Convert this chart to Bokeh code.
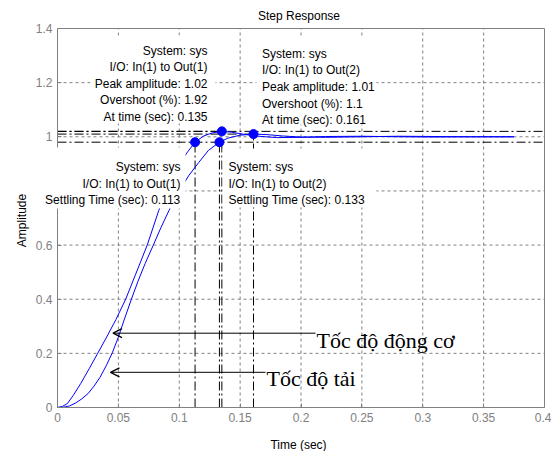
from bokeh.plotting import figure
from bokeh.models import Label, BoxAnnotation, Arrow, OpenHead, Range1d, FixedTicker
from bokeh.embed import file_html
from bokeh.resources import INLINE

# ---------------- data ----------------
t_motor = [0, 0.004, 0.008, 0.013, 0.019, 0.026, 0.033, 0.040, 0.048, 0.056, 0.064,
           0.0737, 0.0832, 0.090, 0.100, 0.107, 0.113, 0.120, 0.127, 0.135, 0.143,
           0.152, 0.165, 0.180, 0.200, 0.220, 0.250, 0.280, 0.310, 0.340, 0.375]
y_motor = [0, 0.004, 0.014, 0.045, 0.088, 0.143, 0.200, 0.257, 0.325, 0.400, 0.490,
           0.600, 0.728, 0.810, 0.900, 0.945, 0.980, 1.003, 1.014, 1.020, 1.017,
           1.010, 1.002, 0.997, 0.998, 1.001, 1.002, 1.000, 0.999, 1.000, 1.000]

t_load = [0, 0.005, 0.010, 0.015, 0.020, 0.025, 0.030, 0.035, 0.040, 0.045, 0.050,
          0.055, 0.0607, 0.066, 0.072, 0.0787, 0.085, 0.0916, 0.100, 0.108, 0.116,
          0.124, 0.133, 0.140, 0.150, 0.161, 0.172, 0.185, 0.200, 0.220, 0.250,
          0.280, 0.310, 0.340, 0.375]
y_load = [0, 0.001, 0.006, 0.017, 0.032, 0.051, 0.079, 0.112, 0.154, 0.202, 0.260,
          0.327, 0.400, 0.465, 0.532, 0.600, 0.665, 0.728, 0.800, 0.858, 0.905,
          0.950, 0.980, 0.995, 1.006, 1.010, 1.008, 1.003, 0.999, 0.998, 1.000,
          1.002, 1.001, 1.000, 1.000]

peak_amp = [1.02, 1.01]
overshoot = [1.92, 1.1]
peak_time = [0.135, 0.161]
settle_time = [0.113, 0.133]
settle_amp = [0.98, 0.98]
band = [1.02, 0.98]
outputs = ["Out(1)", "Out(2)"]

arrow_tip_t = [0.0456, 0.0435]
arrow_tip_y = [0.2745, 0.130]
arrow_texts = ["Tốc độ động cơ", "Tốc độ tải"]

x_ticks = [0, 0.05, 0.1, 0.15, 0.2, 0.25, 0.3, 0.35, 0.4]
x_tick_labels = ["0", "0.05", "0.1", "0.15", "0.2", "0.25", "0.3", "0.35", "0.4"]
y_ticks = [0, 0.2, 0.4, 0.6, 0.8, 1.0, 1.2, 1.4]
y_tick_labels = ["0", "0.2", "0.4", "0.6", "0.8", "1", "1.2", "1.4"]

X_MIN, X_MAX = 0, 0.4
Y_MIN, Y_MAX = 0, 1.4

# ---------------- layout helpers (canvas pixels -> data) ----------------
W, H = 551, 451
FX0, FX1, FY0, FY1 = 57, 544, 28, 407


def sx(px):
    return X_MIN + (px - FX0) / (FX1 - FX0) * (X_MAX - X_MIN)


def sy(py):
    return Y_MIN + (FY1 - py) / (FY1 - FY0) * (Y_MAX - Y_MIN)


GRAY = "#808080"
FONT = "Liberation Sans"

p = figure(width=W, height=H, x_range=Range1d(sx(0), sx(W)), y_range=Range1d(sy(H), sy(0)),
           output_backend="svg", toolbar_location=None, min_border=0)
p.background_fill_color = "white"
p.border_fill_color = "white"
p.outline_line_color = None

for ax, ticks, labels, bnds in ((p.xaxis[0], x_ticks, x_tick_labels, (X_MIN, X_MAX)),
                                (p.yaxis[0], y_ticks, y_tick_labels, (Y_MIN, Y_MAX))):
    ax.fixed_location = 0
    ax.bounds = bnds
    ax.ticker = FixedTicker(ticks=ticks)
    ax.major_label_overrides = {float(t): l for t, l in zip(ticks, labels)}
    ax.axis_line_color = GRAY
    ax.major_tick_line_color = GRAY
    ax.major_tick_in = 4
    ax.major_tick_out = 0
    ax.minor_tick_line_color = None
    ax.major_label_text_color = GRAY
    ax.major_label_text_font = FONT
    ax.major_label_text_font_size = "12px"
    ax.major_label_standoff = 5

p.xgrid.visible = False
p.ygrid.visible = False

# grid (dotted, inside the axes box only) from the tick lists
gx = [t for t in x_ticks if X_MIN < t < X_MAX]
gy = [t for t in y_ticks if Y_MIN < t < Y_MAX]
p.segment(x0=gx, x1=gx, y0=[Y_MIN] * len(gx), y1=[Y_MAX] * len(gx),
          line_color=GRAY, line_dash="3 3", line_width=1)
p.segment(x0=[X_MIN] * len(gy), x1=[X_MAX] * len(gy), y0=gy, y1=gy,
          line_color=GRAY, line_dash="3 3", line_width=1)
# top and right border of the axes box
p.segment(x0=[X_MIN, X_MAX], x1=[X_MAX, X_MAX], y0=[Y_MAX, Y_MIN], y1=[Y_MAX, Y_MAX],
          line_color=GRAY, line_width=1)

# characteristic lines (dash-dot)
DD = "9 3 2 3"
p.segment(x0=[X_MIN] * len(band), x1=[X_MAX] * len(band), y0=band, y1=band,
          line_color="black", line_dash=DD, line_width=1)
p.segment(x0=[X_MIN] * 2, x1=peak_time, y0=peak_amp, y1=peak_amp,
          line_color="black", line_dash=DD, line_width=1)
p.segment(x0=peak_time, x1=peak_time, y0=[Y_MIN] * 2, y1=peak_amp,
          line_color="black", line_dash=DD, line_width=1)
p.segment(x0=settle_time, x1=settle_time, y0=[Y_MIN] * 2, y1=settle_amp,
          line_color="black", line_dash=DD, line_width=1)

# responses
p.line(t_motor, y_motor, line_color="#0000ff", line_width=1)
p.line(t_load, y_load, line_color="#0000ff", line_width=1)
p.scatter(peak_time + settle_time, peak_amp + settle_amp, size=9,
          fill_color="#0000ff", line_color="#0000ff")

# data-tip boxes (white background, no border)
boxes = [(90, 215, 35, 123), (256, 376, 36, 124), (28, 185, 147, 208), (222, 376, 148, 207)]
for l, r, t, b in boxes:
    p.add_layout(BoxAnnotation(left=sx(l), right=sx(r), top=sy(t), bottom=sy(b),
                               fill_color="white", fill_alpha=1.0, line_alpha=0))


def fmt(v):
    return f"{v:g}"


tips = [
    (207, 50.0, "right", ["System: sys", f"I/O: In(1) to {outputs[0]}",
                          f"Peak amplitude: {fmt(peak_amp[0])}",
                          f"Overshoot (%): {fmt(overshoot[0])}",
                          f"At time (sec): {fmt(peak_time[0])}"]),
    (261.5, 53.3, "left", ["System: sys", f"I/O: In(1) to {outputs[1]}",
                           f"Peak amplitude: {fmt(peak_amp[1])}",
                           f"Overshoot (%): {fmt(overshoot[1])}",
                           f"At time (sec): {fmt(peak_time[1])}"]),
    (180, 166.7, "right", ["System: sys", f"I/O: In(1) to {outputs[0]}",
                           f"Settling Time (sec): {fmt(settle_time[0])}"]),
    (228, 166.7, "left", ["System: sys", f"I/O: In(1) to {outputs[1]}",
                          f"Settling Time (sec): {fmt(settle_time[1])}"]),
]
for x0, y0, align, lines in tips:
    for i, s in enumerate(lines):
        p.add_layout(Label(x=sx(x0), y=sy(y0 + i * 16.6), text=s, text_align=align,
                           text_baseline="alphabetic", text_font=FONT,
                           text_font_size="12px", text_color="black"))

# arrows with annotations
arrow_tail_px = [315, 265]
text_base_px = [339.5, 378.3]
for tx, ty, txt, tail, base in zip(arrow_tip_t, arrow_tip_y, arrow_texts, arrow_tail_px, text_base_px):
    p.add_layout(Arrow(end=OpenHead(size=9, line_color="black", line_width=1.3),
                       x_start=sx(tail), y_start=ty, x_end=tx, y_end=ty,
                       line_color="black", line_width=1))
    p.add_layout(Label(x=sx(tail + 1), y=sy(base), text=txt, text_align="left",
                       text_baseline="alphabetic", text_font="Liberation Serif",
                       text_font_size="22px", text_color="black"))

# title and axis labels
p.add_layout(Label(x=sx(298.5), y=sy(15.5), text="Step Response", text_align="center",
                   text_baseline="alphabetic", text_font=FONT, text_font_size="12px",
                   text_color="black"))
p.add_layout(Label(x=sx(298), y=sy(444), text="Time (sec)", text_align="center",
                   text_baseline="alphabetic", text_font=FONT, text_font_size="12px",
                   text_color="black"))
p.add_layout(Label(x=sx(21.5), y=sy(220), text="Amplitude", text_align="center",
                   text_baseline="alphabetic", angle=1.5708, text_font=FONT,
                   text_font_size="12px", text_color="black"))

open("out.html", "w").write(file_html(p, INLINE))
